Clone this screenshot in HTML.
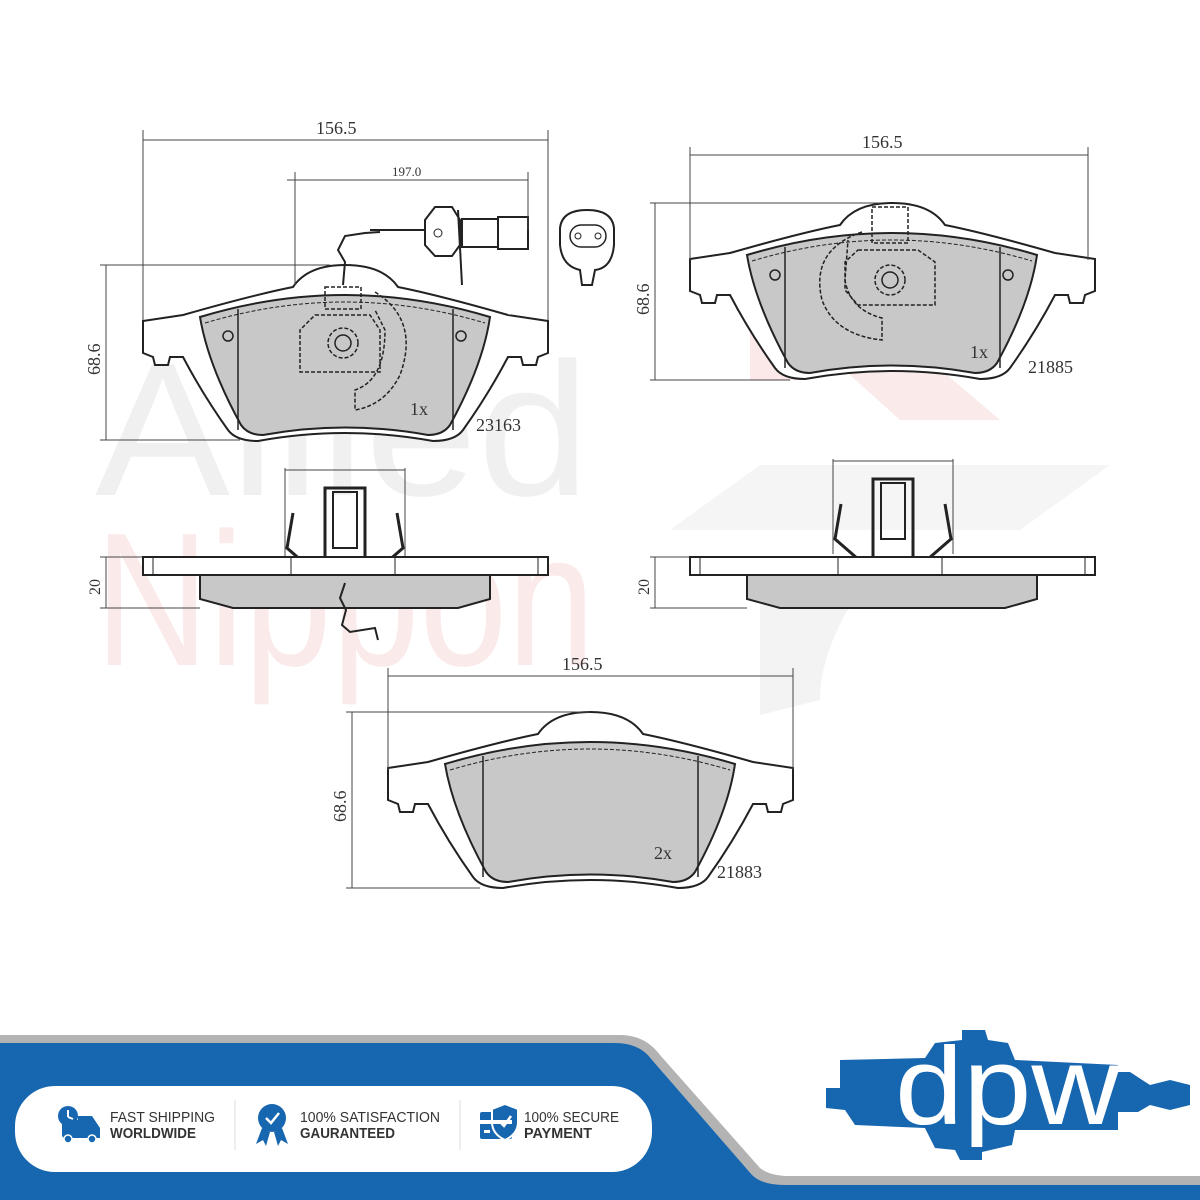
<!DOCTYPE html>
<html><head><meta charset="utf-8"><style>
html,body{margin:0;padding:0;background:#fff;}
svg{display:block;}
.t{font-family:"Liberation Serif",serif;fill:#333;}
</style></head><body>
<svg width="1200" height="1200" viewBox="0 0 1200 1200" xmlns="http://www.w3.org/2000/svg">
<defs>
<g id="pad">
  <path d="M0,56 L40,50 Q110,30 150,22 Q165,0 202,0 Q240,0 255,22 Q295,30 365,50 L405,56 L405,88 L395,92 L393,100 L380,100 L378,92 L365,92 Q345,130 320,165 Q312,176 290,176 Q202,160 115,176 Q93,176 85,165 Q60,130 40,92 L27,92 L25,100 L12,100 L10,92 L0,88 Z" fill="#fff" stroke="#222" stroke-width="2"/>
  <path d="M57,52 Q202,8 347,52 Q340,100 307,160 Q300,170 285,170 Q202,155 120,170 Q105,170 98,160 Q65,100 57,52 Z" fill="#c8c8c8" stroke="#222" stroke-width="2"/>
  <line x1="95" y1="44" x2="95" y2="165" stroke="#222" stroke-width="1.5"/>
  <line x1="310" y1="44" x2="310" y2="165" stroke="#222" stroke-width="1.5"/>
  <path d="M62,58 Q202,16 342,58" fill="none" stroke="#222" stroke-width="1" stroke-dasharray="4,2"/>
</g>
<g id="side">
  <rect x="0" y="0" width="405" height="18" fill="#fff" stroke="#222" stroke-width="2"/>
  <line x1="10" y1="0" x2="10" y2="18" stroke="#222"/><line x1="395" y1="0" x2="395" y2="18" stroke="#222"/>
  <line x1="148" y1="0" x2="148" y2="18" stroke="#222"/><line x1="252" y1="0" x2="252" y2="18" stroke="#222"/>
  <path d="M57,18 L347,18 L347,42 L315,51 L90,51 L57,42 Z" fill="#c8c8c8" stroke="#222" stroke-width="2"/>
</g>
<g id="clip">
  <path d="M8,45 L2,80 L25,100 L95,100 L118,80 L112,45" fill="none" stroke="#222" stroke-width="3"/>
  <path d="M40,100 L40,20 L80,20 L80,100" fill="none" stroke="#222" stroke-width="3"/>
  <rect x="48" y="24" width="24" height="56" fill="none" stroke="#222" stroke-width="2"/>
  <line x1="0" y1="0" x2="0" y2="95" stroke="#444" stroke-width="1"/>
  <line x1="120" y1="0" x2="120" y2="95" stroke="#444" stroke-width="1"/>
  <line x1="0" y1="2" x2="120" y2="2" stroke="#444" stroke-width="1"/>
</g>
</defs>

<!-- watermarks -->
<text x="95" y="495" font-family="Liberation Sans,sans-serif" font-size="190" fill="#f0f0f0" textLength="495" lengthAdjust="spacingAndGlyphs">Allied</text>
<text x="95" y="665" font-family="Liberation Sans,sans-serif" font-size="190" fill="#fbeaea" textLength="500" lengthAdjust="spacingAndGlyphs">Nippon</text>
<path d="M750,250 L800,250 L800,380 L750,380 Z" fill="#fbe8e8"/>
<path d="M800,250 L1000,420 L900,420 L800,330 Z" fill="#fbeaea"/>
<path d="M670,530 L760,465 L1110,465 L1020,530 Z" fill="#f5f5f5"/>
<path d="M760,590 L860,590 Q820,650 820,700 L760,715 Z" fill="#f3f3f3"/>

<!-- pad 1 -->
<use href="#pad" x="143" y="265"/>
<g fill="none" stroke="#222" stroke-width="1.5" stroke-dasharray="4,2">
  <path d="M315,315 L370,315 L380,330 L380,372 L300,372 L300,330 Z"/>
  <circle cx="343" cy="343" r="15"/>
  <path d="M375,292 Q420,320 400,375 Q385,405 355,410 L355,390 Q385,380 385,330 L375,310"/>
  <rect x="325" y="287" width="36" height="22"/>
</g>
<circle cx="343" cy="343" r="8" fill="none" stroke="#222" stroke-width="1.5"/>
<circle cx="228" cy="336" r="5" fill="none" stroke="#222" stroke-width="1.5"/>
<circle cx="461" cy="336" r="5" fill="none" stroke="#222" stroke-width="1.5"/>
<path d="M343,285 L345,262 L338,250 L345,236 L365,233 L380,232" fill="none" stroke="#222" stroke-width="2"/>
<path d="M370,230 L430,230" stroke="#222" stroke-width="2"/>
<path d="M425,220 L435,207 L452,207 L460,220 L460,245 L452,256 L435,256 L425,245 Z" fill="#fff" stroke="#222" stroke-width="2"/>
<circle cx="438" cy="233" r="4" fill="none" stroke="#222"/>
<rect x="462" y="219" width="36" height="28" fill="#fff" stroke="#222" stroke-width="2"/>
<line x1="458" y1="210" x2="462" y2="285" stroke="#222" stroke-width="2"/>
<rect x="498" y="217" width="30" height="32" fill="#fff" stroke="#222" stroke-width="2"/>
<path d="M560,228 Q562,210 587,210 Q612,210 614,228 L614,245 Q612,268 595,270 L592,285 L582,285 L580,270 Q562,266 560,245 Z" fill="#fff" stroke="#222" stroke-width="2"/>
<rect x="570" y="225" width="36" height="22" rx="11" fill="none" stroke="#222" stroke-width="1.5"/>
<circle cx="578" cy="236" r="3" fill="none" stroke="#222"/><circle cx="598" cy="236" r="3" fill="none" stroke="#222"/>
<text class="t" x="410" y="415" font-size="18">1x</text>
<text class="t" x="476" y="431" font-size="18">23163</text>
<g stroke="#444" stroke-width="1" fill="none">
  <line x1="143" y1="130" x2="143" y2="320"/><line x1="548" y1="130" x2="548" y2="320"/>
  <line x1="143" y1="140" x2="548" y2="140"/>
  <line x1="295" y1="172" x2="295" y2="285"/><line x1="528" y1="172" x2="528" y2="230"/>
  <line x1="287" y1="180" x2="528" y2="180"/>
  <line x1="100" y1="265" x2="330" y2="265"/><line x1="100" y1="440" x2="240" y2="440"/>
  <line x1="106" y1="265" x2="106" y2="440"/>
  <line x1="100" y1="557" x2="143" y2="557"/><line x1="100" y1="608" x2="200" y2="608"/>
  <line x1="106" y1="557" x2="106" y2="608"/>
</g>
<text class="t" x="316" y="134" font-size="18">156.5</text>
<text class="t" x="392" y="176" font-size="13">197.0</text>
<text class="t" font-size="18" transform="translate(100,375) rotate(-90)">68.6</text>
<text class="t" font-size="16" transform="translate(100,595) rotate(-90)">20</text>
<use href="#clip" x="285" y="468"/>
<use href="#side" x="143" y="557"/>
<path d="M345,583 L340,598 L346,610 L342,625 L350,632 L375,628 L378,640" fill="none" stroke="#222" stroke-width="2"/>

<!-- pad 2 -->
<use href="#pad" x="690" y="203"/>
<g fill="none" stroke="#222" stroke-width="1.5" stroke-dasharray="4,2">
  <path d="M858,250 L918,250 L935,262 L935,305 L858,305 L845,290 L845,262 Z"/>
  <circle cx="890" cy="280" r="15"/>
  <path d="M862,232 Q810,250 822,300 Q835,335 882,340 L882,318 Q850,310 845,280 L848,240"/>
  <rect x="872" y="207" width="36" height="36"/>
</g>
<circle cx="890" cy="280" r="8" fill="none" stroke="#222" stroke-width="1.5"/>
<circle cx="775" cy="275" r="5" fill="none" stroke="#222" stroke-width="1.5"/>
<circle cx="1008" cy="275" r="5" fill="none" stroke="#222" stroke-width="1.5"/>
<text class="t" x="970" y="358" font-size="18">1x</text>
<text class="t" x="1028" y="373" font-size="18">21885</text>
<g stroke="#444" stroke-width="1" fill="none">
  <line x1="690" y1="147" x2="690" y2="260"/><line x1="1088" y1="147" x2="1088" y2="260"/>
  <line x1="690" y1="155" x2="1088" y2="155"/>
  <line x1="650" y1="203" x2="880" y2="203"/><line x1="650" y1="380" x2="790" y2="380"/>
  <line x1="655" y1="203" x2="655" y2="380"/>
  <line x1="650" y1="557" x2="690" y2="557"/><line x1="650" y1="608" x2="747" y2="608"/>
  <line x1="655" y1="557" x2="655" y2="608"/>
</g>
<text class="t" x="862" y="148" font-size="18">156.5</text>
<text class="t" font-size="18" transform="translate(649,315) rotate(-90)">68.6</text>
<text class="t" font-size="16" transform="translate(649,595) rotate(-90)">20</text>
<use href="#clip" x="833" y="459"/>
<use href="#side" x="690" y="557"/>

<!-- pad 3 -->
<use href="#pad" x="388" y="712"/>
<text class="t" x="654" y="859" font-size="18">2x</text>
<text class="t" x="717" y="878" font-size="18">21883</text>
<g stroke="#444" stroke-width="1" fill="none">
  <line x1="388" y1="668" x2="388" y2="770"/><line x1="793" y1="668" x2="793" y2="770"/>
  <line x1="388" y1="676" x2="793" y2="676"/>
  <line x1="346" y1="712" x2="590" y2="712"/><line x1="346" y1="888" x2="480" y2="888"/>
  <line x1="352" y1="712" x2="352" y2="888"/>
</g>
<text class="t" x="562" y="670" font-size="18">156.5</text>
<text class="t" font-size="18" transform="translate(346,822) rotate(-90)">68.6</text>

<!-- banner -->
<path d="M0,1035 L620,1035 Q645,1035 660,1055 L760,1168 Q770,1176 790,1176 L1200,1176 L1200,1200 L0,1200 Z" fill="#b3b3b3"/>
<path d="M0,1043 L615,1043 Q640,1043 652,1060 L752,1175 Q762,1185 785,1185 L1200,1185 L1200,1200 L0,1200 Z" fill="#1766b0"/>
<rect x="15" y="1086" width="637" height="86" rx="40" fill="#fff"/>
<line x1="235" y1="1100" x2="235" y2="1150" stroke="#ddd"/>
<line x1="460" y1="1100" x2="460" y2="1150" stroke="#ddd"/>
<g fill="#1766b0">
  <circle cx="68" cy="1116" r="10"/>
  <rect x="62" y="1120" width="30" height="18" rx="3"/>
  <path d="M78,1116 L92,1116 L100,1128 L100,1138 L78,1138 Z"/>
  <circle cx="68" cy="1139" r="4" fill="#1766b0" stroke="#fff" stroke-width="1.5"/>
  <circle cx="92" cy="1139" r="4" fill="#1766b0" stroke="#fff" stroke-width="1.5"/>
  <circle cx="272" cy="1118" r="14"/>
  <path d="M262,1128 L256,1144 L263,1140 L266,1146 L270,1132 Z"/>
  <path d="M282,1128 L288,1144 L281,1140 L278,1146 L274,1132 Z"/>
  <rect x="480" y="1112" width="32" height="27" rx="2"/>
  <path d="M505,1104 L518,1109 L518,1122 Q518,1134 505,1140 Q492,1134 492,1122 L492,1109 Z" stroke="#fff" stroke-width="2"/>
</g>
<path d="M266,1118 L271,1123 L279,1113" fill="none" stroke="#fff" stroke-width="2.5"/>
<path d="M499,1121 L504,1126 L511,1116" fill="none" stroke="#fff" stroke-width="2.5"/>
<line x1="68" y1="1110" x2="68" y2="1117" stroke="#fff" stroke-width="2"/><line x1="68" y1="1117" x2="73" y2="1119" stroke="#fff" stroke-width="2"/>
<rect x="480" y="1120" width="32" height="4" fill="#fff"/>
<rect x="484" y="1130" width="6" height="3" fill="#fff"/>
<g font-family="Liberation Sans,sans-serif" font-size="14.5" fill="#333">
  <text x="110" y="1122" textLength="105" lengthAdjust="spacingAndGlyphs">FAST SHIPPING</text>
  <text x="110" y="1138" font-weight="bold" textLength="86" lengthAdjust="spacingAndGlyphs">WORLDWIDE</text>
  <text x="300" y="1122" textLength="140" lengthAdjust="spacingAndGlyphs">100% SATISFACTION</text>
  <text x="300" y="1138" font-weight="bold" textLength="95" lengthAdjust="spacingAndGlyphs">GAURANTEED</text>
  <text x="524" y="1122" textLength="95" lengthAdjust="spacingAndGlyphs">100% SECURE</text>
  <text x="524" y="1138" font-weight="bold" textLength="68" lengthAdjust="spacingAndGlyphs">PAYMENT</text>
</g>
<path d="M826,1088 L840,1088 L840,1060 L925,1058 L935,1043 L962,1040 L962,1030 L985,1030 L988,1040 L1008,1043 L1015,1060 L1118,1065 L1118,1072 L1130,1072 L1150,1085 L1170,1080 L1190,1085 L1190,1105 L1170,1110 L1150,1105 L1138,1112 L1118,1112 L1118,1130 L1015,1130 L1012,1145 L982,1152 L982,1160 L960,1160 L955,1150 L935,1148 L925,1128 L855,1125 L845,1110 L826,1108 Z" fill="#1766b0"/>
<text x="895" y="1124" font-family="Liberation Sans,sans-serif" font-size="110" fill="#fff" textLength="225" lengthAdjust="spacingAndGlyphs">dpw</text>
</svg>
</body></html>
